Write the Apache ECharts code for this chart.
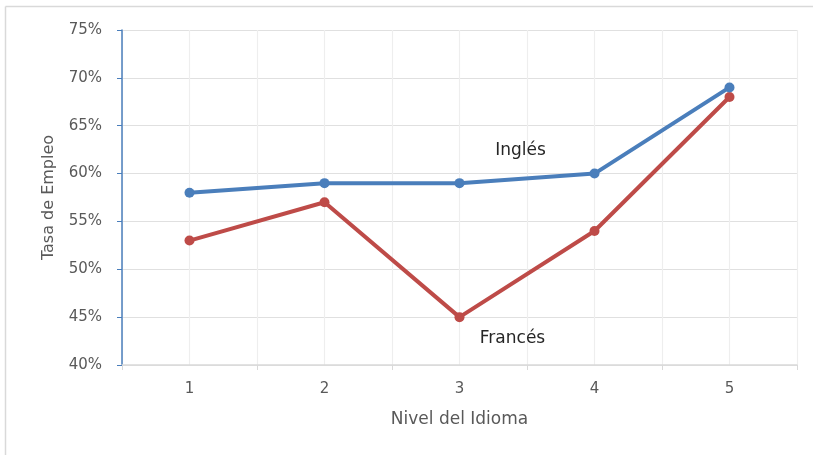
<!DOCTYPE html>
<html>
<head>
<meta charset="utf-8">
<script src="https://cdn.jsdelivr.net/npm/echarts@6/dist/echarts.min.js"></script>
<style>
html,body{margin:0;padding:0;background:#fff;}
#c{width:813px;height:455px;}
</style>
</head>
<body>
<div id="c"></div>
<script>
const categories = ['1', '2', '3', '4', '5'];
const ingles = [0.58, 0.59, 0.59, 0.60, 0.69];
const frances = [0.53, 0.57, 0.45, 0.54, 0.68];
const yTicks = { min: 0.40, max: 0.75, step: 0.05 };
const seriesNames = ['Inglés', 'Francés'];
const labelIndex = 2;

const font = 'DejaVu Sans';
const chart = echarts.init(document.getElementById('c'));

function labelData(values, name, offset) {
  return values.map((v, i) => i === labelIndex ? {
    value: v,
    label: { show: true, position: 'inside', formatter: name, offset: offset,
             fontFamily: font, fontSize: 17, color: '#262626' }
  } : v);
}

chart.setOption({
  animation: false,
  graphic: [
    { type: 'line', shape: { x1: 5.5, y1: 6.5, x2: 813, y2: 6.5 }, style: { stroke: '#d9d9d9', lineWidth: 1.5 } },
    { type: 'line', shape: { x1: 5.5, y1: 6.5, x2: 5.5, y2: 455 }, style: { stroke: '#d9d9d9', lineWidth: 1.5 } }
  ],
  grid: { left: 122, right: 16, top: 30, bottom: 90 },
  xAxis: [
    {
      type: 'category', data: categories, boundaryGap: true,
      name: 'Nivel del Idioma', nameLocation: 'middle', nameGap: 46,
      nameTextStyle: { fontFamily: font, fontSize: 17, color: '#595959' },
      axisLine: { lineStyle: { color: '#d9d9d9', width: 1.5 } },
      axisTick: { show: true, length: 5, lineStyle: { color: '#d9d9d9' } },
      axisLabel: { fontFamily: font, fontSize: 15, color: '#595959', margin: 17 },
      splitLine: { show: false }
    },
    {
      type: 'value', min: 0.5, max: 5.5, interval: 0.5, position: 'bottom',
      axisLine: { show: false }, axisTick: { show: false }, axisLabel: { show: false },
      splitLine: { show: true, lineStyle: { color: '#eeeeee', width: 1.2 } }
    }
  ],
  yAxis: {
    type: 'value', min: yTicks.min, max: yTicks.max, interval: yTicks.step,
    name: 'Tasa de Empleo', nameLocation: 'middle', nameGap: 65,
    nameTextStyle: { fontFamily: font, fontSize: 16, color: '#595959' },
    axisLine: { show: true, lineStyle: { color: '#4a7ebb', width: 1.5 } },
    axisTick: { show: true, length: 5, lineStyle: { color: '#4a7ebb' } },
    axisLabel: { fontFamily: font, fontSize: 15, color: '#595959', margin: 20,
                 formatter: v => Math.round(v * 100) + '%' },
    splitLine: { show: true, lineStyle: { color: '#e0e0e0', width: 1.2 } }
  },
  series: [
    {
      name: seriesNames[0], type: 'line', xAxisIndex: 0,
      data: labelData(ingles, seriesNames[0], [61, -33]),
      symbol: 'circle', symbolSize: 10,
      lineStyle: { color: '#4a7ebb', width: 4 },
      itemStyle: { color: '#4a7ebb' }, z: 3
    },
    {
      name: seriesNames[1], type: 'line', xAxisIndex: 0,
      data: labelData(frances, seriesNames[1], [53, 21]),
      symbol: 'circle', symbolSize: 10,
      lineStyle: { color: '#be4b48', width: 4 },
      itemStyle: { color: '#be4b48' }, z: 2
    }
  ]
});
</script>
</body>
</html>
